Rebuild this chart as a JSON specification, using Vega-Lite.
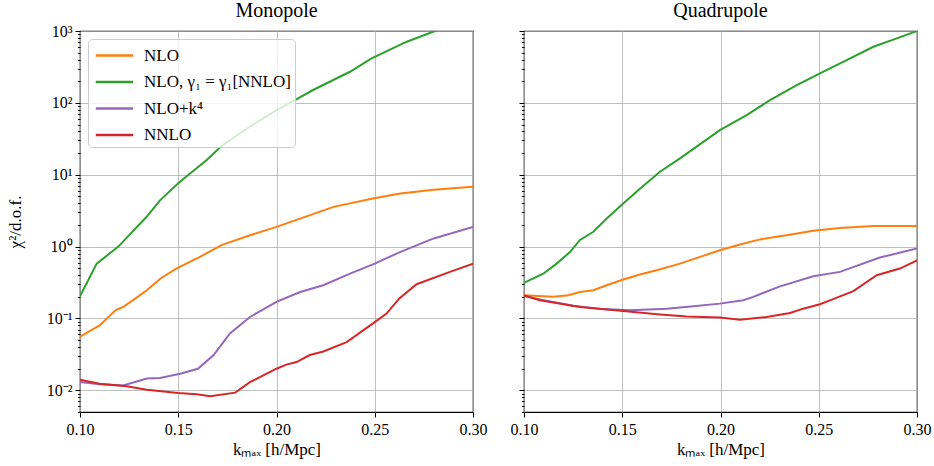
{
  "$schema": "https://vega.github.io/schema/vega-lite/v6.json",
  "background": "white",
  "padding": {"left": 5, "top": 0, "right": 10, "bottom": 2},
  "bounds": "flush",
  "spacing": 51,
  "config": {
    "font": "Liberation Serif",
    "view": {"stroke": "black", "strokeWidth": 1.2},
    "axis": {
      "domain": false,
      "labelFont": "Liberation Serif",
      "labelFontSize": 16,
      "labelColor": "black",
      "titleFont": "Liberation Serif",
      "titleFontSize": 17,
      "titleFontWeight": "normal",
      "titleColor": "black",
      "tickColor": "black",
      "tickWidth": 1,
      "gridColor": "#b0b0b0",
      "gridWidth": 0.8,
      "labelOverlap": false,
      "labelFlush": false
    },
    "title": {"font": "Liberation Serif", "fontSize": 20, "fontWeight": "normal", "color": "black", "offset": 2}
  },
  "data": {
    "values": [
      {"p": "Monopole", "s": "NLO", "k": 0.100, "v": 0.056},
      {"p": "Monopole", "s": "NLO", "k": 0.110, "v": 0.080},
      {"p": "Monopole", "s": "NLO", "k": 0.118, "v": 0.13},
      {"p": "Monopole", "s": "NLO", "k": 0.122, "v": 0.145},
      {"p": "Monopole", "s": "NLO", "k": 0.127, "v": 0.18},
      {"p": "Monopole", "s": "NLO", "k": 0.134, "v": 0.247},
      {"p": "Monopole", "s": "NLO", "k": 0.141, "v": 0.36},
      {"p": "Monopole", "s": "NLO", "k": 0.149, "v": 0.495},
      {"p": "Monopole", "s": "NLO", "k": 0.161, "v": 0.72},
      {"p": "Monopole", "s": "NLO", "k": 0.172, "v": 1.05},
      {"p": "Monopole", "s": "NLO", "k": 0.1865, "v": 1.44},
      {"p": "Monopole", "s": "NLO", "k": 0.200, "v": 1.88},
      {"p": "Monopole", "s": "NLO", "k": 0.212, "v": 2.45},
      {"p": "Monopole", "s": "NLO", "k": 0.229, "v": 3.57},
      {"p": "Monopole", "s": "NLO", "k": 0.249, "v": 4.68},
      {"p": "Monopole", "s": "NLO", "k": 0.263, "v": 5.5},
      {"p": "Monopole", "s": "NLO", "k": 0.280, "v": 6.2},
      {"p": "Monopole", "s": "NLO", "k": 0.300, "v": 6.8},

      {"p": "Monopole", "s": "NLO, γ₁ = γ₁[NNLO]", "k": 0.100, "v": 0.204},
      {"p": "Monopole", "s": "NLO, γ₁ = γ₁[NNLO]", "k": 0.1085, "v": 0.58},
      {"p": "Monopole", "s": "NLO, γ₁ = γ₁[NNLO]", "k": 0.1195, "v": 1.0},
      {"p": "Monopole", "s": "NLO, γ₁ = γ₁[NNLO]", "k": 0.1339, "v": 2.6},
      {"p": "Monopole", "s": "NLO, γ₁ = γ₁[NNLO]", "k": 0.1407, "v": 4.4},
      {"p": "Monopole", "s": "NLO, γ₁ = γ₁[NNLO]", "k": 0.150, "v": 7.6},
      {"p": "Monopole", "s": "NLO, γ₁ = γ₁[NNLO]", "k": 0.156, "v": 10.4},
      {"p": "Monopole", "s": "NLO, γ₁ = γ₁[NNLO]", "k": 0.1645, "v": 16},
      {"p": "Monopole", "s": "NLO, γ₁ = γ₁[NNLO]", "k": 0.172, "v": 25},
      {"p": "Monopole", "s": "NLO, γ₁ = γ₁[NNLO]", "k": 0.185, "v": 44},
      {"p": "Monopole", "s": "NLO, γ₁ = γ₁[NNLO]", "k": 0.200, "v": 79},
      {"p": "Monopole", "s": "NLO, γ₁ = γ₁[NNLO]", "k": 0.2094, "v": 109},
      {"p": "Monopole", "s": "NLO, γ₁ = γ₁[NNLO]", "k": 0.2186, "v": 151},
      {"p": "Monopole", "s": "NLO, γ₁ = γ₁[NNLO]", "k": 0.2374, "v": 271},
      {"p": "Monopole", "s": "NLO, γ₁ = γ₁[NNLO]", "k": 0.2484, "v": 417},
      {"p": "Monopole", "s": "NLO, γ₁ = γ₁[NNLO]", "k": 0.2663, "v": 710},
      {"p": "Monopole", "s": "NLO, γ₁ = γ₁[NNLO]", "k": 0.2807, "v": 1000},
      {"p": "Monopole", "s": "NLO, γ₁ = γ₁[NNLO]", "k": 0.290, "v": 1250},
      {"p": "Monopole", "s": "NLO, γ₁ = γ₁[NNLO]", "k": 0.300, "v": 1550},

      {"p": "Monopole", "s": "NLO+k⁴", "k": 0.100, "v": 0.0131},
      {"p": "Monopole", "s": "NLO+k⁴", "k": 0.110, "v": 0.0122},
      {"p": "Monopole", "s": "NLO+k⁴", "k": 0.122, "v": 0.0117},
      {"p": "Monopole", "s": "NLO+k⁴", "k": 0.134, "v": 0.0146},
      {"p": "Monopole", "s": "NLO+k⁴", "k": 0.1407, "v": 0.0149},
      {"p": "Monopole", "s": "NLO+k⁴", "k": 0.151, "v": 0.017},
      {"p": "Monopole", "s": "NLO+k⁴", "k": 0.160, "v": 0.020},
      {"p": "Monopole", "s": "NLO+k⁴", "k": 0.168, "v": 0.031},
      {"p": "Monopole", "s": "NLO+k⁴", "k": 0.1763, "v": 0.062},
      {"p": "Monopole", "s": "NLO+k⁴", "k": 0.1865, "v": 0.105},
      {"p": "Monopole", "s": "NLO+k⁴", "k": 0.200, "v": 0.17},
      {"p": "Monopole", "s": "NLO+k⁴", "k": 0.212, "v": 0.234},
      {"p": "Monopole", "s": "NLO+k⁴", "k": 0.2238, "v": 0.29},
      {"p": "Monopole", "s": "NLO+k⁴", "k": 0.2374, "v": 0.42},
      {"p": "Monopole", "s": "NLO+k⁴", "k": 0.250, "v": 0.58},
      {"p": "Monopole", "s": "NLO+k⁴", "k": 0.2628, "v": 0.84},
      {"p": "Monopole", "s": "NLO+k⁴", "k": 0.280, "v": 1.3},
      {"p": "Monopole", "s": "NLO+k⁴", "k": 0.300, "v": 1.88},

      {"p": "Monopole", "s": "NNLO", "k": 0.100, "v": 0.0141},
      {"p": "Monopole", "s": "NNLO", "k": 0.110, "v": 0.0124},
      {"p": "Monopole", "s": "NNLO", "k": 0.1238, "v": 0.0114},
      {"p": "Monopole", "s": "NNLO", "k": 0.134, "v": 0.0102},
      {"p": "Monopole", "s": "NNLO", "k": 0.150, "v": 0.0092},
      {"p": "Monopole", "s": "NNLO", "k": 0.1594, "v": 0.0088},
      {"p": "Monopole", "s": "NNLO", "k": 0.1662, "v": 0.0083},
      {"p": "Monopole", "s": "NNLO", "k": 0.179, "v": 0.0093},
      {"p": "Monopole", "s": "NNLO", "k": 0.1865, "v": 0.013},
      {"p": "Monopole", "s": "NNLO", "k": 0.200, "v": 0.020},
      {"p": "Monopole", "s": "NNLO", "k": 0.205, "v": 0.0228},
      {"p": "Monopole", "s": "NNLO", "k": 0.2102, "v": 0.0248},
      {"p": "Monopole", "s": "NNLO", "k": 0.217, "v": 0.031},
      {"p": "Monopole", "s": "NNLO", "k": 0.2238, "v": 0.0347},
      {"p": "Monopole", "s": "NNLO", "k": 0.2357, "v": 0.047},
      {"p": "Monopole", "s": "NNLO", "k": 0.250, "v": 0.089},
      {"p": "Monopole", "s": "NNLO", "k": 0.256, "v": 0.117},
      {"p": "Monopole", "s": "NNLO", "k": 0.2625, "v": 0.19},
      {"p": "Monopole", "s": "NNLO", "k": 0.2713, "v": 0.30},
      {"p": "Monopole", "s": "NNLO", "k": 0.2883, "v": 0.445},
      {"p": "Monopole", "s": "NNLO", "k": 0.300, "v": 0.58},

      {"p": "Quadrupole", "s": "NLO", "k": 0.100, "v": 0.21},
      {"p": "Quadrupole", "s": "NLO", "k": 0.1149, "v": 0.20},
      {"p": "Quadrupole", "s": "NLO", "k": 0.1226, "v": 0.21},
      {"p": "Quadrupole", "s": "NLO", "k": 0.1285, "v": 0.234},
      {"p": "Quadrupole", "s": "NLO", "k": 0.1353, "v": 0.247},
      {"p": "Quadrupole", "s": "NLO", "k": 0.1421, "v": 0.29},
      {"p": "Quadrupole", "s": "NLO", "k": 0.1505, "v": 0.348},
      {"p": "Quadrupole", "s": "NLO", "k": 0.159, "v": 0.41},
      {"p": "Quadrupole", "s": "NLO", "k": 0.1675, "v": 0.47},
      {"p": "Quadrupole", "s": "NLO", "k": 0.1794, "v": 0.58},
      {"p": "Quadrupole", "s": "NLO", "k": 0.1896, "v": 0.72},
      {"p": "Quadrupole", "s": "NLO", "k": 0.1997, "v": 0.89},
      {"p": "Quadrupole", "s": "NLO", "k": 0.2099, "v": 1.07},
      {"p": "Quadrupole", "s": "NLO", "k": 0.2201, "v": 1.26},
      {"p": "Quadrupole", "s": "NLO", "k": 0.2336, "v": 1.44},
      {"p": "Quadrupole", "s": "NLO", "k": 0.2472, "v": 1.66},
      {"p": "Quadrupole", "s": "NLO", "k": 0.2608, "v": 1.82},
      {"p": "Quadrupole", "s": "NLO", "k": 0.2778, "v": 1.94},
      {"p": "Quadrupole", "s": "NLO", "k": 0.300, "v": 1.94},

      {"p": "Quadrupole", "s": "NLO, γ₁ = γ₁[NNLO]", "k": 0.100, "v": 0.313},
      {"p": "Quadrupole", "s": "NLO, γ₁ = γ₁[NNLO]", "k": 0.1098, "v": 0.42},
      {"p": "Quadrupole", "s": "NLO, γ₁ = γ₁[NNLO]", "k": 0.1166, "v": 0.58},
      {"p": "Quadrupole", "s": "NLO, γ₁ = γ₁[NNLO]", "k": 0.1234, "v": 0.84},
      {"p": "Quadrupole", "s": "NLO, γ₁ = γ₁[NNLO]", "k": 0.1285, "v": 1.24},
      {"p": "Quadrupole", "s": "NLO, γ₁ = γ₁[NNLO]", "k": 0.1353, "v": 1.61},
      {"p": "Quadrupole", "s": "NLO, γ₁ = γ₁[NNLO]", "k": 0.1421, "v": 2.46},
      {"p": "Quadrupole", "s": "NLO, γ₁ = γ₁[NNLO]", "k": 0.1505, "v": 3.98},
      {"p": "Quadrupole", "s": "NLO, γ₁ = γ₁[NNLO]", "k": 0.159, "v": 6.4},
      {"p": "Quadrupole", "s": "NLO, γ₁ = γ₁[NNLO]", "k": 0.1692, "v": 11},
      {"p": "Quadrupole", "s": "NLO, γ₁ = γ₁[NNLO]", "k": 0.1794, "v": 16.9},
      {"p": "Quadrupole", "s": "NLO, γ₁ = γ₁[NNLO]", "k": 0.1853, "v": 22},
      {"p": "Quadrupole", "s": "NLO, γ₁ = γ₁[NNLO]", "k": 0.1997, "v": 41.8},
      {"p": "Quadrupole", "s": "NLO, γ₁ = γ₁[NNLO]", "k": 0.2133, "v": 67.6},
      {"p": "Quadrupole", "s": "NLO, γ₁ = γ₁[NNLO]", "k": 0.2252, "v": 109},
      {"p": "Quadrupole", "s": "NLO, γ₁ = γ₁[NNLO]", "k": 0.2388, "v": 177},
      {"p": "Quadrupole", "s": "NLO, γ₁ = γ₁[NNLO]", "k": 0.2506, "v": 258},
      {"p": "Quadrupole", "s": "NLO, γ₁ = γ₁[NNLO]", "k": 0.2642, "v": 394},
      {"p": "Quadrupole", "s": "NLO, γ₁ = γ₁[NNLO]", "k": 0.2778, "v": 604},
      {"p": "Quadrupole", "s": "NLO, γ₁ = γ₁[NNLO]", "k": 0.2897, "v": 791},
      {"p": "Quadrupole", "s": "NLO, γ₁ = γ₁[NNLO]", "k": 0.300, "v": 1000},

      {"p": "Quadrupole", "s": "NLO+k⁴", "k": 0.100, "v": 0.205},
      {"p": "Quadrupole", "s": "NLO+k⁴", "k": 0.110, "v": 0.18},
      {"p": "Quadrupole", "s": "NLO+k⁴", "k": 0.125, "v": 0.15},
      {"p": "Quadrupole", "s": "NLO+k⁴", "k": 0.140, "v": 0.135},
      {"p": "Quadrupole", "s": "NLO+k⁴", "k": 0.154, "v": 0.13},
      {"p": "Quadrupole", "s": "NLO+k⁴", "k": 0.1726, "v": 0.137},
      {"p": "Quadrupole", "s": "NLO+k⁴", "k": 0.1862, "v": 0.148},
      {"p": "Quadrupole", "s": "NLO+k⁴", "k": 0.1997, "v": 0.161},
      {"p": "Quadrupole", "s": "NLO+k⁴", "k": 0.2116, "v": 0.179},
      {"p": "Quadrupole", "s": "NLO+k⁴", "k": 0.2167, "v": 0.20},
      {"p": "Quadrupole", "s": "NLO+k⁴", "k": 0.2303, "v": 0.28},
      {"p": "Quadrupole", "s": "NLO+k⁴", "k": 0.2472, "v": 0.387},
      {"p": "Quadrupole", "s": "NLO+k⁴", "k": 0.2608, "v": 0.445},
      {"p": "Quadrupole", "s": "NLO+k⁴", "k": 0.2811, "v": 0.705},
      {"p": "Quadrupole", "s": "NLO+k⁴", "k": 0.300, "v": 0.94},

      {"p": "Quadrupole", "s": "NNLO", "k": 0.100, "v": 0.21},
      {"p": "Quadrupole", "s": "NNLO", "k": 0.108, "v": 0.179},
      {"p": "Quadrupole", "s": "NNLO", "k": 0.1285, "v": 0.145},
      {"p": "Quadrupole", "s": "NNLO", "k": 0.1505, "v": 0.127},
      {"p": "Quadrupole", "s": "NNLO", "k": 0.1692, "v": 0.114},
      {"p": "Quadrupole", "s": "NNLO", "k": 0.1828, "v": 0.107},
      {"p": "Quadrupole", "s": "NNLO", "k": 0.1997, "v": 0.1035},
      {"p": "Quadrupole", "s": "NNLO", "k": 0.2099, "v": 0.0964},
      {"p": "Quadrupole", "s": "NNLO", "k": 0.2235, "v": 0.105},
      {"p": "Quadrupole", "s": "NNLO", "k": 0.2354, "v": 0.119},
      {"p": "Quadrupole", "s": "NNLO", "k": 0.2421, "v": 0.137},
      {"p": "Quadrupole", "s": "NNLO", "k": 0.2506, "v": 0.158},
      {"p": "Quadrupole", "s": "NNLO", "k": 0.2557, "v": 0.179},
      {"p": "Quadrupole", "s": "NNLO", "k": 0.2676, "v": 0.24},
      {"p": "Quadrupole", "s": "NNLO", "k": 0.2795, "v": 0.40},
      {"p": "Quadrupole", "s": "NNLO", "k": 0.2913, "v": 0.495},
      {"p": "Quadrupole", "s": "NNLO", "k": 0.300, "v": 0.645}
    ]
  },
  "hconcat": [
    {
      "width": 393,
      "height": 381,
      "title": {"text": "Monopole"},
      "transform": [{"filter": "datum.p === 'Monopole'"}],
      "mark": {"type": "line", "clip": true, "strokeWidth": 2},
      "encoding": {
        "x": {
          "field": "k", "type": "quantitative",
          "scale": {"domain": [0.1, 0.3], "nice": false, "zero": false},
          "title": "kₘₐₓ [h/Mpc]",
          "axis": {"values": [0.1, 0.15, 0.2, 0.25, 0.3], "format": ".2f", "tickSize": 5, "labelPadding": 4, "titlePadding": 4}
        },
        "y": {
          "field": "v", "type": "quantitative",
          "scale": {"type": "log", "domain": [0.005, 1000], "nice": false},
          "title": "χ²/d.o.f.",
          "axis": {
            "values": [0.005,0.006,0.007,0.008,0.009,0.01,0.02,0.03,0.04,0.05,0.06,0.07,0.08,0.09,0.1,0.2,0.3,0.4,0.5,0.6,0.7,0.8,0.9,1,2,3,4,5,6,7,8,9,10,20,30,40,50,60,70,80,90,100,200,300,400,500,600,700,800,900,1000],
            "labelExpr": "abs(log(datum.value)/LN10 - round(log(datum.value)/LN10)) > 0.000001 ? '' : ['10⁻²','10⁻¹','10⁰','10¹','10²','10³'][round(log(datum.value)/LN10)+2]",
            "tickSize": {"condition": {"test": "abs(log(datum.value)/LN10 - round(log(datum.value)/LN10)) < 0.000001", "value": 5}, "value": 2.5},
            "gridOpacity": {"condition": {"test": "abs(log(datum.value)/LN10 - round(log(datum.value)/LN10)) < 0.000001", "value": 1}, "value": 0},
            "labelPadding": 3,
            "titlePadding": 22
          }
        },
        "color": {
          "field": "s", "type": "nominal",
          "scale": {
            "domain": ["NLO", "NLO, γ₁ = γ₁[NNLO]", "NLO+k⁴", "NNLO"],
            "range": ["#ff7f0e", "#2ca02c", "#9467bd", "#d62728"]
          },
          "legend": {
            "title": null,
            "orient": "top-left",
            "offset": 8,
            "padding": 4,
            "fillColor": "rgba(255,255,255,0.8)",
            "strokeColor": "#cccccc",
            "cornerRadius": 4,
            "symbolType": "M-1.7,0H1.7",
            "symbolSize": 484,
            "symbolOffset": 10,
            "symbolStrokeWidth": 2.5,
            "labelFont": "Liberation Serif",
            "labelFontSize": 17,
            "labelColor": "black",
            "labelOffset": 17,
            "rowPadding": 5.5,
            "labelLimit": 300
          }
        }
      }
    },
    {
      "width": 393,
      "height": 381,
      "title": {"text": "Quadrupole"},
      "transform": [{"filter": "datum.p === 'Quadrupole'"}],
      "mark": {"type": "line", "clip": true, "strokeWidth": 2},
      "encoding": {
        "x": {
          "field": "k", "type": "quantitative",
          "scale": {"domain": [0.1, 0.3], "nice": false, "zero": false},
          "title": "kₘₐₓ [h/Mpc]",
          "axis": {"values": [0.1, 0.15, 0.2, 0.25, 0.3], "format": ".2f", "tickSize": 5, "labelPadding": 4, "titlePadding": 4}
        },
        "y": {
          "field": "v", "type": "quantitative",
          "scale": {"type": "log", "domain": [0.005, 1000], "nice": false},
          "title": null,
          "axis": {
            "values": [0.005,0.006,0.007,0.008,0.009,0.01,0.02,0.03,0.04,0.05,0.06,0.07,0.08,0.09,0.1,0.2,0.3,0.4,0.5,0.6,0.7,0.8,0.9,1,2,3,4,5,6,7,8,9,10,20,30,40,50,60,70,80,90,100,200,300,400,500,600,700,800,900,1000],
            "labelExpr": "abs(log(datum.value)/LN10 - round(log(datum.value)/LN10)) > 0.000001 ? '' : ['10⁻²','10⁻¹','10⁰','10¹','10²','10³'][round(log(datum.value)/LN10)+2]",
            "labelOpacity": 0,
            "labelPadding": 3,
            "tickSize": {"condition": {"test": "abs(log(datum.value)/LN10 - round(log(datum.value)/LN10)) < 0.000001", "value": 5}, "value": 2.5},
            "gridOpacity": {"condition": {"test": "abs(log(datum.value)/LN10 - round(log(datum.value)/LN10)) < 0.000001", "value": 1}, "value": 0}
          }
        },
        "color": {
          "field": "s", "type": "nominal",
          "scale": {
            "domain": ["NLO", "NLO, γ₁ = γ₁[NNLO]", "NLO+k⁴", "NNLO"],
            "range": ["#ff7f0e", "#2ca02c", "#9467bd", "#d62728"]
          },
          "legend": null
        }
      }
    }
  ],
  "resolve": {"legend": {"color": "independent"}}
}
